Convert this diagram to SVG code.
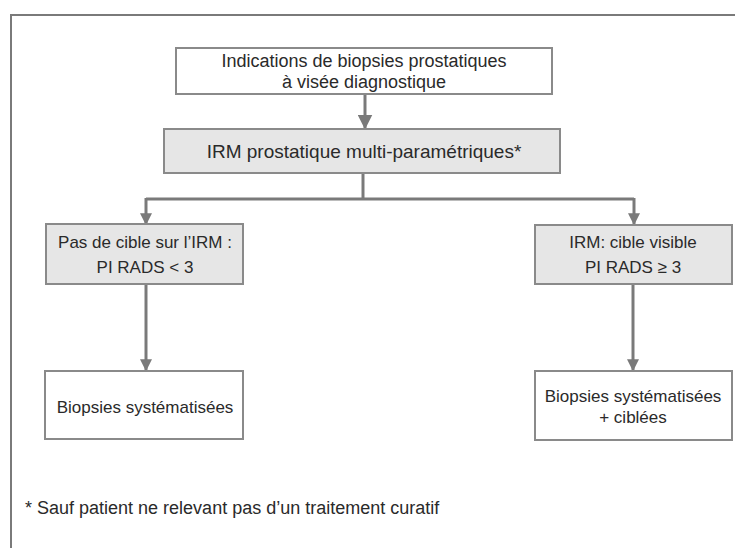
<svg xmlns="http://www.w3.org/2000/svg" width="735" height="548" viewBox="0 0 735 548">
<defs>
<marker id="ah" viewBox="0 0 10 10" refX="9" refY="5" markerWidth="4" markerHeight="4" markerUnits="strokeWidth" orient="auto">
<path d="M0,0 L10,5 L0,10 Z" fill="#7a7a7a"/>
</marker>
<marker id="ahb" viewBox="0 0 10 10" refX="9" refY="5" markerWidth="5" markerHeight="5" markerUnits="strokeWidth" orient="auto">
<path d="M0,0 L10,5 L0,10 Z" fill="#7a7a7a"/>
</marker>
<style>
.box{stroke:#8a8a8a;stroke-width:2;fill:#fff}
.gbox{stroke:#8a8a8a;stroke-width:2;fill:#e6e6e6}
.t{font-family:"Liberation Sans",Arial,sans-serif;font-size:17px;fill:#2a2a2a;text-anchor:middle}
.c{stroke:#7a7a7a;stroke-width:3;fill:none}
</style>
</defs>
<rect width="735" height="548" fill="#fff"/>
<g id="frame">
<line x1="11" y1="15" x2="735" y2="15" stroke="#7a7a7a" stroke-width="2"/>
<line x1="11" y1="14" x2="11" y2="548" stroke="#7a7a7a" stroke-width="2"/>
</g>
<g id="connectors">
<line class="c" x1="365" y1="94" x2="365" y2="128" marker-end="url(#ahb)"/>
<line class="c" x1="363" y1="173" x2="363" y2="199"/>
<line class="c" x1="146" y1="199" x2="634" y2="199"/>
<line class="c" x1="146" y1="198" x2="146" y2="224" marker-end="url(#ah)"/>
<line class="c" x1="634" y1="198" x2="634" y2="224" marker-end="url(#ah)"/>
<line class="c" x1="146" y1="284" x2="146" y2="370" marker-end="url(#ah)"/>
<line class="c" x1="633" y1="284" x2="633" y2="370" marker-end="url(#ah)"/>
</g>
<g id="n1">
<rect class="box" x="176" y="48" width="376" height="46"/>
<text class="t" x="364" y="67" style="font-size:18px">Indications de biopsies prostatiques</text>
<text class="t" x="364" y="88" style="font-size:18px">à visée diagnostique</text>
</g>
<g id="n2">
<rect class="gbox" x="164" y="129" width="396" height="44"/>
<text class="t" x="364" y="158" style="font-size:19px">IRM prostatique multi-paramétriques*</text>
</g>
<g id="n3">
<rect class="gbox" x="46" y="224" width="197" height="60"/>
<text class="t" x="145" y="248">Pas de cible sur l’IRM :</text>
<text class="t" x="145" y="273">PI RADS &lt; 3</text>
</g>
<g id="n4">
<rect class="gbox" x="535" y="225" width="197" height="59"/>
<text class="t" x="633" y="248">IRM: cible visible</text>
<text class="t" x="633" y="273">PI RADS ≥ 3</text>
</g>
<g id="n5">
<rect class="box" x="45" y="371" width="198" height="68"/>
<text class="t" x="145" y="413">Biopsies systématisées</text>
</g>
<g id="n6">
<rect class="box" x="535" y="371" width="197" height="69"/>
<text class="t" x="633" y="402">Biopsies systématisées</text>
<text class="t" x="633" y="423">+ ciblées</text>
</g>
<g id="note">
<text x="25" y="514" font-family="Liberation Sans, Arial, sans-serif" font-size="18" fill="#2a2a2a">* Sauf patient ne relevant pas d’un traitement curatif</text>
</g>
</svg>
